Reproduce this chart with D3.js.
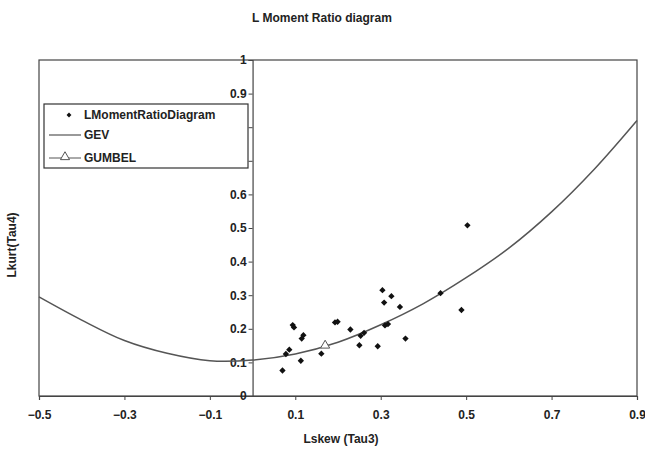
<!DOCTYPE html>
<html>
<head>
<meta charset="utf-8">
<script src="https://cdn.jsdelivr.net/npm/d3@7"></script>
<style>
  body { margin: 0; background: #fff; }
  text { font-family: "Liberation Sans", Arial, sans-serif; fill: #222; }
</style>
</head>
<body>
<div id="chart"></div>
<script>
// sample L-moment ratios
const tau3 = [0.070, 0.078, 0.086, 0.094, 0.097, 0.113, 0.115, 0.119, 0.161, 0.193, 0.199, 0.229,
              0.250, 0.253, 0.261, 0.293, 0.304, 0.308, 0.310, 0.317, 0.325, 0.345, 0.358, 0.440, 0.489, 0.503];
const tau4 = [0.076, 0.125, 0.138, 0.211, 0.204, 0.105, 0.171, 0.181, 0.126, 0.219, 0.221, 0.198,
              0.151, 0.179, 0.188, 0.148, 0.315, 0.278, 0.210, 0.214, 0.297, 0.265, 0.171, 0.306, 0.256, 0.508];

// GEV theoretical curve
const gevTau3 = [-0.5, -0.4, -0.3, -0.2, -0.1, 0, 0.1, 0.2, 0.3, 0.4, 0.5, 0.6, 0.7, 0.8, 0.9];
const gevTau4 = [0.295, 0.226, 0.165, 0.127, 0.105, 0.107, 0.125, 0.160, 0.212, 0.275, 0.352, 0.440, 0.548, 0.675, 0.820];

// Gumbel point
const gumbel = [0.1699, 0.1504];

const xTicks = [-0.5, -0.3, -0.1, 0.1, 0.3, 0.5, 0.7, 0.9];
const yTicks = [0, 0.1, 0.2, 0.3, 0.4, 0.5, 0.6, 0.7, 0.8, 0.9, 1];

const width = 645, height = 453;
const margin = {top: 60, right: 8, bottom: 57, left: 39};

let svg = d3.select("#chart")
    .append("svg")
    .attr("width", width)
    .attr("height", height);

let x = d3.scaleLinear().domain([-0.5, 0.9]).range([margin.left, width - margin.right]);
let y = d3.scaleLinear().domain([0, 1]).range([height - margin.bottom, margin.top]);

// title
svg.append("text")
    .attr("x", 322).attr("y", 22)
    .attr("text-anchor", "middle")
    .attr("font-size", 12).attr("font-weight", "bold")
    .text("L Moment Ratio diagram");

// plot frame
svg.append("rect")
    .attr("x", x(-0.5)).attr("y", y(1))
    .attr("width", x(0.9) - x(-0.5))
    .attr("height", y(0) - y(1))
    .attr("fill", "none")
    .attr("stroke", "#444")
    .attr("stroke-width", 1.2);

// x axis along the bottom
let xAxis = svg.append("g")
    .attr("transform", "translate(0," + y(0) + ")")
    .call(d3.axisBottom(x).tickValues(xTicks).tickSize(4).tickFormat(d3.format("")));
xAxis.select(".domain").attr("stroke", "#444").attr("stroke-width", 1.2);
xAxis.selectAll(".tick line").attr("stroke", "#444");
xAxis.selectAll(".tick text")
    .attr("dy", "1.35em")
    .attr("font-size", 12).attr("font-weight", "bold")
    .attr("fill", "#222")
    .attr("font-family", "Liberation Sans, Arial, sans-serif");

// y axis crosses at tau3 = 0
let yAxis = svg.append("g")
    .attr("transform", "translate(" + x(0) + ",0)")
    .call(d3.axisLeft(y).tickValues(yTicks).tickSize(4).tickFormat(d3.format("")));
yAxis.select(".domain").attr("stroke", "#444").attr("stroke-width", 1.2);
yAxis.selectAll(".tick line").attr("stroke", "#444");
yAxis.selectAll(".tick text")
    .attr("x", -6)
    .attr("font-size", 12).attr("font-weight", "bold")
    .attr("fill", "#222")
    .attr("font-family", "Liberation Sans, Arial, sans-serif");

// GEV line
let line = d3.line()
    .x(function (d) { return x(d[0]); })
    .y(function (d) { return y(d[1]); })
    .curve(d3.curveCatmullRom);

svg.append("path")
    .datum(gevTau3.map(function (t, i) { return [t, gevTau4[i]]; }))
    .attr("d", line)
    .attr("fill", "none")
    .attr("stroke", "#555")
    .attr("stroke-width", 1.5);

// sample points (square turned 45deg, like excel's diamond)
let diamond = d3.symbol().type(d3.symbolSquare).size(20);
svg.selectAll(".pt")
    .data(tau3.map(function (t, i) { return [t, tau4[i]]; }))
    .enter()
    .append("path")
    .attr("class", "pt")
    .attr("d", diamond)
    .attr("transform", function (d) {
        return "translate(" + x(d[0]) + "," + y(d[1]) + ") rotate(45)";
    })
    .attr("fill", "#111");

// gumbel triangle
let tri = d3.symbol().type(d3.symbolTriangle).size(36);
svg.append("path")
    .attr("d", tri)
    .attr("transform", "translate(" + x(gumbel[0]) + "," + y(gumbel[1]) + ")")
    .attr("fill", "#fff")
    .attr("stroke", "#555")
    .attr("stroke-width", 1);

// legend
let legend = svg.append("g");
legend.append("rect")
    .attr("x", 44).attr("y", 104)
    .attr("width", 204).attr("height", 64)
    .attr("fill", "#fff")
    .attr("stroke", "#333")
    .attr("stroke-width", 1.2);

legend.append("path")
    .attr("d", d3.symbol().type(d3.symbolSquare).size(12))
    .attr("transform", "translate(69,115) rotate(45)")
    .attr("fill", "#111");
legend.append("line")
    .attr("x1", 49).attr("x2", 81).attr("y1", 135).attr("y2", 135)
    .attr("stroke", "#777").attr("stroke-width", 1.5);
legend.append("line")
    .attr("x1", 49).attr("x2", 81).attr("y1", 158).attr("y2", 158)
    .attr("stroke", "#555").attr("stroke-width", 1);
legend.append("path")
    .attr("d", tri)
    .attr("transform", "translate(65,157)")
    .attr("fill", "#fff")
    .attr("stroke", "#555");

let names = ["LMomentRatioDiagram", "GEV", "GUMBEL"];
legend.selectAll(".lab")
    .data(names)
    .enter()
    .append("text")
    .attr("x", 84)
    .attr("y", function (d, i) { return [119, 139, 162][i]; })
    .attr("font-size", 12).attr("font-weight", "bold")
    .text(function (d) { return d; });

// axis titles
svg.append("text")
    .attr("x", 341).attr("y", 443)
    .attr("text-anchor", "middle")
    .attr("font-size", 12).attr("font-weight", "bold")
    .text("Lskew (Tau3)");

svg.append("text")
    .attr("transform", "translate(16,245) rotate(-90)")
    .attr("text-anchor", "middle")
    .attr("font-size", 12).attr("font-weight", "bold")
    .text("Lkurt(Tau4)");
</script>
</body>
</html>
